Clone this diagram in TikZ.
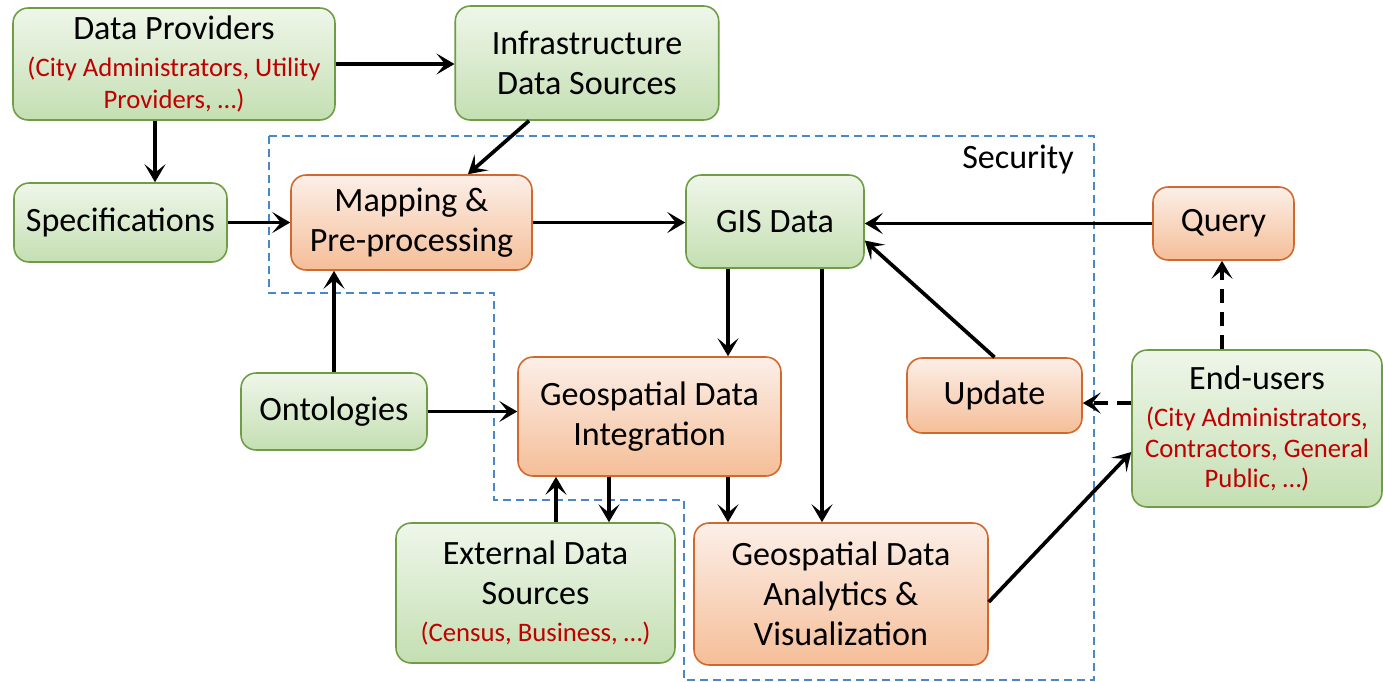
\documentclass[tikz,border=0pt]{standalone}
\usepackage{fontspec}
\setmainfont{Carlito}
\usepackage{xcolor}
\usepackage{tikz}
\usetikzlibrary{arrows.meta,calc}
\definecolor{gtop}{HTML}{EFF6EA}
\definecolor{gbot}{HTML}{C4DFB2}
\definecolor{gline}{HTML}{6F9D46}
\definecolor{otop}{HTML}{FCEFE8}
\definecolor{obot}{HTML}{F5BE98}
\definecolor{oline}{HTML}{D2692C}
\definecolor{dred}{HTML}{C00000}
\definecolor{secblue}{HTML}{4A87C9}
\newcommand{\subt}{\color{dred}\fontsize{15.2pt}{17.6pt}\selectfont}

\begin{document}
\begin{tikzpicture}[x=0.02cm,y=-0.02cm,
  font=\fontsize{19.4pt}{22.8pt}\selectfont,
  grn/.style={draw=gline,line width=0.9pt,top color=gtop,bottom color=gbot,rounded corners=0.3cm,align=center,inner sep=2pt},
  org/.style={draw=oline,line width=0.9pt,top color=otop,bottom color=obot,rounded corners=0.3cm,align=center,inner sep=2pt},
  arr/.style={-{Stealth[length=0.36cm,width=0.42cm,inset=0.17cm]},line width=2.1pt},
  darr/.style={arr,dash pattern=on 0.28cm off 0.18cm},
  sec/.style={draw=secblue,line width=0.8pt,dash pattern=on 0.16cm off 0.1cm}]
\useasboundingbox (0,0) rectangle (1383,681);
% security zone
\draw[sec] (269,136) -- (1094,136) -- (1094,680) -- (684,680) -- (684,500)
  -- (494,500) -- (494,293) -- (269,293) -- cycle;
\node[anchor=east] (sect) at (1080,160) {Security};
% sources
\node[grn,minimum width=6.44cm,minimum height=2.24cm] (prov) at (174,64)
  {Data Providers\\[-1.5pt]{\subt (City Administrators, Utility}\\[-4.3pt]{\subt Providers, …)}};
\node[grn,minimum width=5.27cm,minimum height=2.28cm] (infra) at (587,63) {Infrastructure\\Data Sources};
\node[grn,minimum width=4.26cm,minimum height=1.58cm] (spec) at (120.5,222.5) {Specifications};
\node[grn,minimum width=3.72cm,minimum height=1.54cm] (onto) at (334,411.5) {Ontologies};
\node[grn,minimum width=5.58cm,minimum height=2.8cm] (ext) at (535.5,593)
  {External Data\\Sources\\[-2.2pt]{\subt (Census, Business, …)}};
\node[grn,minimum width=3.56cm,minimum height=1.86cm] (gis) at (775,221.5) {GIS Data};
\node[grn,minimum width=5.0cm,minimum height=3.14cm] (users) at (1257,428.5)
  {End-users\\[-1.5pt]{\subt (City Administrators,}\\[-5.6pt]{\subt Contractors, General}\\[-5.6pt]{\subt Public, …)}};
% processing
\node[org,minimum width=4.82cm,minimum height=1.9cm] (map) at (411.5,222.5) {Mapping \&\\Pre-processing};
\node[org,minimum width=5.26cm,minimum height=2.38cm] (integ) at (649.5,416.5) {Geospatial Data\\Integration};
\node[org,minimum width=5.88cm,minimum height=2.84cm] (ana) at (841,594) {Geospatial Data\\Analytics \&\\Visualization};
\node[org,minimum width=2.82cm,minimum height=1.46cm] (query) at (1223.5,223.5) {Query};
\node[org,minimum width=3.5cm,minimum height=1.5cm] (upd) at (994.5,395.5) {Update};
% flows
\draw[arr] (prov.east) -- (prov.east -| infra.west);
\draw[arr] ([xshift=-0.38cm]prov.south) -- ([xshift=-0.38cm]prov.south |- spec.north);
\draw[arr] ([xshift=-1.16cm]infra.south) -- ([xshift=1.13cm]map.north);
\draw[arr] (spec.east) -- (spec.east -| map.west);
\draw[arr] (map.east) -- (map.east -| gis.west);
\draw[arr] (query.west) -- (query.west -| gis.east);
\draw[arr] (upd.north) -- ([yshift=-0.38cm]gis.east);
\draw[arr] ([xshift=-0.94cm]gis.south) -- ([xshift=-0.94cm]gis.south |- integ.north);
\draw[arr] ([xshift=0.94cm]gis.south) -- ([xshift=0.94cm]gis.south |- ana.north);
\draw[arr] (onto.north) -- (onto.north |- map.south);
\draw[arr] (onto.east) -- (onto.east -| integ.west);
\draw[arr] ([xshift=0.41cm]ext.north) -- ([xshift=0.41cm]ext.north |- integ.south);
\draw[arr] ([xshift=1.47cm]ext.north |- integ.south) -- ([xshift=1.47cm]ext.north);
\draw[arr] ([xshift=1.57cm]integ.south) -- ([xshift=1.57cm]integ.south |- ana.north);
\draw[arr] ([yshift=-0.16cm]ana.east) -- ([yshift=-0.47cm]users.west);
% user actions
\draw[darr] ([yshift=0.51cm]users.west) -- ([yshift=0.51cm]users.west -| upd.east);
\draw[darr] ([xshift=-0.7cm]users.north) -- ([xshift=-0.7cm]users.north |- query.south);
\end{tikzpicture}
\end{document}
